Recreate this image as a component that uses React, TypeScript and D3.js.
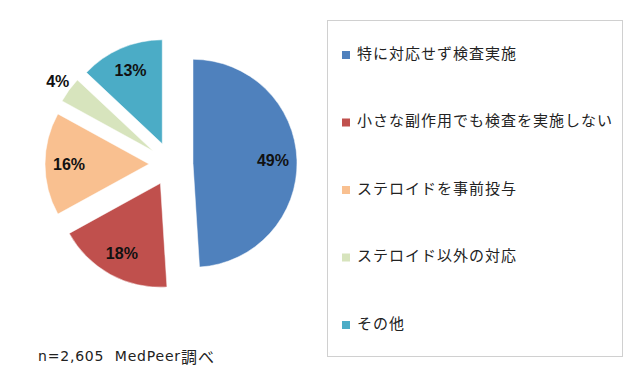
import React from "react";
import * as d3 from "d3";

const categories = [
  "特に対応せず検査実施",
  "小さな副作用でも検査を実施しない",
  "ステロイドを事前投与",
  "ステロイド以外の対応",
  "その他",
];
const values = [49, 18, 16, 4, 13];
const colors = ["#4F81BD", "#C0504D", "#F9C090", "#D7E4BD", "#4BACC6"];
const noteLatin = "n=2,605  MedPeer";
const noteCJK = "調べ";

const W = 640;
const H = 384;
const CX = 171;
const CY = 164;
const R = 104;
const EXPLODE = 22;

export default function App() {
  const pie = d3
    .pie<number>()
    .sort(null)
    .value((d) => d)
    .startAngle(0)
    .endAngle(2 * Math.PI);
  const arcs = pie(values);
  const arc = d3.arc<d3.PieArcDatum<number>>().innerRadius(0).outerRadius(R);
  const total = d3.sum(values);

  const legendY = d3
    .scalePoint<number>()
    .domain(d3.range(categories.length))
    .range([52, 322]);

  return (
    <svg
      width={W}
      height={H}
      style={{ position: "absolute", left: 0, top: 0, background: "#fff" }}
    >
      <rect x={0} y={0} width={W} height={H} fill="#fff" />
      <g transform={`translate(${CX},${CY})`}>
        {arcs.map((a, i) => {
          const mid = (a.startAngle + a.endAngle) / 2;
          const dx = Math.sin(mid) * EXPLODE;
          const dy = -Math.cos(mid) * EXPLODE;
          const pct = a.value / total;
          const lr = pct < 0.05 ? 118 : 80;
          const lx = dx + Math.sin(mid) * lr;
          const ly = dy - Math.cos(mid) * lr;
          return (
            <g key={i}>
              <path
                d={arc(a) || ""}
                transform={`translate(${dx},${dy})`}
                fill={colors[i]}
                stroke="#fff"
                strokeWidth={0.5}
              />
              <text
                x={lx}
                y={ly}
                textAnchor="middle"
                dominantBaseline="central"
                fontFamily="'Liberation Sans', Arial, sans-serif"
                fontWeight="bold"
                fontSize={16}
                fill="#111"
              >
                {`${values[i]}%`}
              </text>
            </g>
          );
        })}
      </g>
      <rect
        x={327.5}
        y={20.5}
        width={295}
        height={336}
        fill="#fff"
        stroke="#d0d0d0"
        strokeWidth={1}
      />
      {categories.map((c, i) => {
        const y = legendY(i) as number;
        return (
          <g key={c}>
            <rect x={342} y={y - 1} width={8} height={8} fill={colors[i]} />
            <text
              x={357}
              y={y}
              dominantBaseline="central"
              fontFamily="'Noto Sans CJK JP', sans-serif"
              fontSize={15}
              letterSpacing={1}
              fill="#222"
            >
              {c}
            </text>
          </g>
        );
      })}
      <text
        x={38}
        y={356}
        dominantBaseline="central"
        fontFamily="'DejaVu Sans', 'Noto Sans CJK JP', sans-serif"
        fontSize={14}
        letterSpacing={0.8}
        fill="#222"
        style={{ whiteSpace: "pre" }}
      >
        {noteLatin}
        <tspan
          fontFamily="'Noto Sans CJK JP', sans-serif"
          fontSize={16}
          letterSpacing={1}
        >
          {noteCJK}
        </tspan>
      </text>
    </svg>
  );
}
